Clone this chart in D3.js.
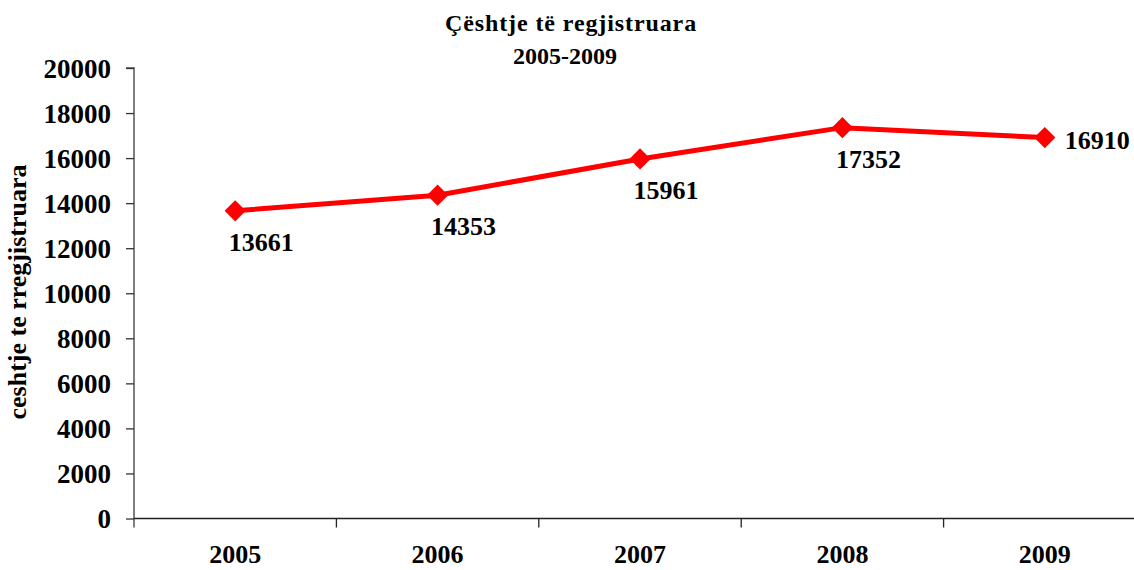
<!DOCTYPE html>
<html>
<head>
<meta charset="utf-8">
<script src="https://cdn.jsdelivr.net/npm/d3@7"></script>
<style>
  body { margin: 0; background: #fff; }
  text { font-family: "Liberation Serif", "Times New Roman", serif; font-weight: bold; fill: #000; }
</style>
</head>
<body>
<div id="root"></div>
<script>
// chart data
const years = ["2005", "2006", "2007", "2008", "2009"];
const cases = [13661, 14353, 15961, 17352, 16910];
const yTicks = [0, 2000, 4000, 6000, 8000, 10000, 12000, 14000, 16000, 18000, 20000];
const titleLines = ["Çështje të regjistruara", "2005-2009"];
const yTitle = "ceshtje te rregjistruara";

const width = 1134, height = 570;
const plot = { left: 134, top: 68, right: 1146, bottom: 518.5 };

const svg = d3.select("#root").append("svg")
  .attr("width", width).attr("height", height);

const x = d3.scaleBand().domain(years).range([plot.left, plot.right]);
const y = d3.scaleLinear().domain([0, 20000]).range([plot.bottom, plot.top]);

// title
svg.append("text")
  .attr("x", 571).attr("y", 31)
  .attr("text-anchor", "middle")
  .style("font-size", "24px")
  .style("letter-spacing", "0.9px")
  .text(titleLines[0]);
svg.append("text")
  .attr("x", 565).attr("y", 64)
  .attr("text-anchor", "middle")
  .style("font-size", "24px")
  .text(titleLines[1]);

// y axis
const yAxis = svg.append("g")
  .attr("transform", `translate(${plot.left},0)`)
  .call(d3.axisLeft(y).tickValues(yTicks).tickSize(8).tickPadding(15).tickFormat(d3.format("d")));
yAxis.select(".domain").attr("stroke", "#7f7f7f").attr("stroke-width", 2)
  .attr("d", `M-8,${y(20000)}H0V${plot.bottom + 9}`);
yAxis.selectAll(".tick line").attr("stroke", "#333").attr("stroke-width", 1.3);
yAxis.selectAll(".tick text")
  .style("font-size", "27px")
  .attr("dy", "0.34em");

// x axis
const bounds = years.map(d => x(d)).concat([plot.right]);
const xAxis = svg.append("g");
xAxis.append("line")
  .attr("x1", plot.left).attr("x2", width)
  .attr("y1", plot.bottom).attr("y2", plot.bottom)
  .attr("stroke", "#222").attr("stroke-width", 1.5);
xAxis.selectAll("line.tick").data(bounds.slice(1)).enter().append("line")
  .attr("class", "tick")
  .attr("x1", d => d).attr("x2", d => d)
  .attr("y1", plot.bottom).attr("y2", plot.bottom + 9)
  .attr("stroke", "#222").attr("stroke-width", 1.3);
xAxis.selectAll("text").data(years).enter().append("text")
  .attr("x", d => x(d) + x.bandwidth() / 2)
  .attr("y", 563)
  .attr("text-anchor", "middle")
  .style("font-size", "26px")
  .text(d => d);

// y axis title
svg.append("text")
  .attr("transform", `translate(26,292) rotate(-90)`)
  .attr("text-anchor", "middle")
  .style("font-size", "26px")
  .text(yTitle);

// line
const cx = d => x(d) + x.bandwidth() / 2;
const line = d3.line()
  .x((d, i) => cx(years[i]))
  .y(d => y(d));

svg.append("path")
  .datum(cases)
  .attr("fill", "none")
  .attr("stroke", "#ff0000")
  .attr("stroke-width", 5)
  .attr("stroke-linejoin", "round")
  .attr("d", line);

svg.selectAll(".marker").data(cases).enter().append("path")
  .attr("class", "marker")
  .attr("d", d3.symbol().type(d3.symbolSquare).size(225))
  .attr("fill", "#ff0000")
  .attr("transform", (d, i) => `translate(${cx(years[i])},${y(d)}) rotate(45)`);

// data labels: below the point, last one to the right
svg.selectAll(".lbl").data(cases).enter().append("text")
  .attr("class", "lbl")
  .attr("x", (d, i) => i === cases.length - 1 ? cx(years[i]) + 20 : cx(years[i]) + 26)
  .attr("y", (d, i) => i === cases.length - 1 ? y(d) + 11 : y(d) + 40)
  .attr("text-anchor", (d, i) => i === cases.length - 1 ? "start" : "middle")
  .style("font-size", "26px")
  .text(d => d);
</script>
</body>
</html>
